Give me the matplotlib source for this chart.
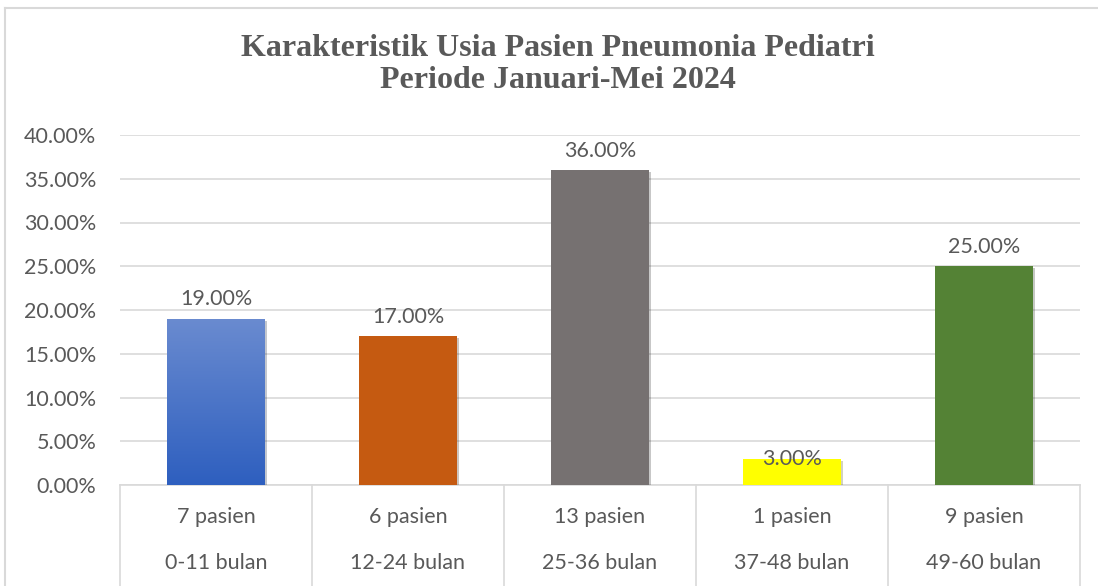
# age characteristics of pediatric pneumonia patients, Jan-May 2024
import numpy as np
import matplotlib
matplotlib.use('Agg')
import matplotlib.pyplot as plt
import matplotlib.patheffects as pe
from matplotlib.lines import Line2D

age_groups = ['0-11 bulan', '12-24 bulan', '25-36 bulan', '37-48 bulan', '49-60 bulan']
patients = [7, 6, 13, 1, 9]
percent = [0.19, 0.17, 0.36, 0.03, 0.25]
yticks = [0.0, 0.05, 0.10, 0.15, 0.20, 0.25, 0.30, 0.35, 0.40]

colors = ['#4472c4', '#c55a11', '#767171', '#ffff00', '#548235']
label_offset = [14, 14, 14, 0, 14]   # points above the bar top (label centre)
txt = '#595959'
grid = '#d9d9d9'
fs = 15.5

plt.rcParams['font.family'] = ['Lato', 'DejaVu Sans']

fig = plt.figure(figsize=(10.98, 5.86), dpi=100)
ax = fig.add_axes([120 / 1098, 101 / 586, 960 / 1098, 350 / 586])

x = np.arange(len(age_groups))
bars = ax.bar(x, percent, width=0.51, color=colors, zorder=3)
for b in bars:
    b.set_path_effects([pe.SimplePatchShadow(offset=(1.5, -1.5), alpha=0.25), pe.Normal()])

# blue bar gets a light-to-dark gradient like the original
b0 = bars[0]
grad = np.linspace(0, 1, 256).reshape(-1, 1)
cmap = matplotlib.colors.LinearSegmentedColormap.from_list('g', ['#2e5fbf', '#6a8bd0'])
im = ax.imshow(grad, cmap=cmap, aspect='auto', origin='lower', zorder=4,
               extent=(b0.get_x(), b0.get_x() + b0.get_width(), 0, b0.get_height()))
im.set_clip_path(b0)

for i, b in enumerate(bars):
    ax.annotate('{:.2f}%'.format(percent[i] * 100),
                (b.get_x() + b.get_width() / 2, b.get_height()),
                xytext=(0, label_offset[i]), textcoords='offset points',
                ha='center', va='center', fontsize=fs, color=txt, zorder=5)

ax.set_xlim(-0.5, len(age_groups) - 0.5)
ax.set_ylim(0, 0.4)
ax.set_yticks(yticks)
ax.set_yticklabels(['{:.2f}%'.format(v * 100) for v in yticks])
ax.tick_params(axis='y', length=0, pad=17, labelsize=fs, labelcolor=txt)
ax.set_xticks([])
ax.yaxis.grid(True, color=grid, linewidth=1.2, zorder=0)
for s in ['top', 'right', 'left']:
    ax.spines[s].set_visible(False)
ax.spines['bottom'].set_color(grid)
ax.spines['bottom'].set_linewidth(1.2)

# two-row category table under the axis
tr = matplotlib.transforms.blended_transform_factory(ax.transData, ax.transAxes)
for xb in np.arange(len(age_groups) + 1) - 0.5:
    ax.plot([xb, xb], [0, -0.3], color=grid, lw=1.2, transform=tr, clip_on=False)
for i in range(len(age_groups)):
    ax.text(i, -32 / 350, '{} pasien'.format(patients[i]), transform=tr,
            ha='center', va='center', fontsize=fs, color=txt)
    ax.text(i, -78 / 350, age_groups[i], transform=tr,
            ha='center', va='center', fontsize=fs, color=txt)

fig.text(558 / 1098, 1 - 48 / 586, 'Karakteristik Usia Pasien Pneumonia Pediatri',
         ha='center', va='center', fontsize=23, fontweight='bold', color=txt,
         family='Liberation Serif')
fig.text(558 / 1098, 1 - 81 / 586, 'Periode Januari-Mei 2024',
         ha='center', va='center', fontsize=23, fontweight='bold', color=txt,
         family='Liberation Serif')

# chart area border (top and left visible)
fig.add_artist(Line2D([5 / 1098, 1], [1 - 8 / 586] * 2, color=grid, lw=1.5))
fig.add_artist(Line2D([5 / 1098] * 2, [0, 1 - 8 / 586], color=grid, lw=1.5))

fig.savefig('out.png', dpi=100)
